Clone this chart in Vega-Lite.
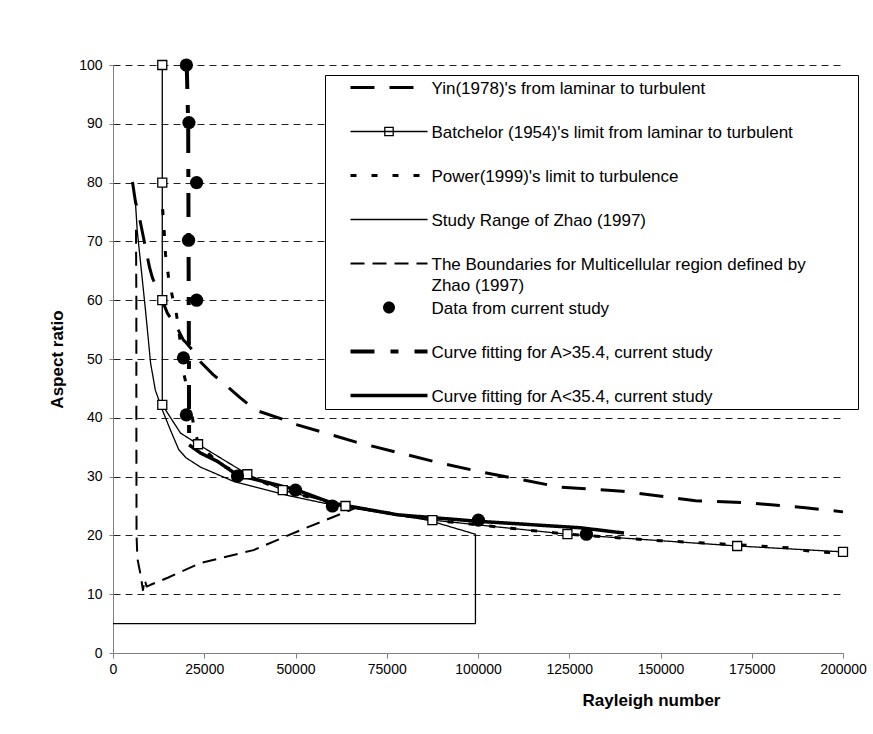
{
  "$schema": "https://vega.github.io/schema/vega-lite/v6.json",
  "width": 730,
  "height": 588,
  "autosize": {"type": "none"},
  "padding": {"left": 113, "top": 65, "right": 30, "bottom": 81},
  "background": "white",
  "config": {
    "view": {"stroke": null},
    "font": "Liberation Sans",
    "axis": {"labelFont": "Liberation Sans", "titleFont": "Liberation Sans", "labelColor": "black", "titleColor": "black", "domainColor": "#808080", "tickColor": "#808080", "tickSize": 5, "labelOverlap": false, "labelBound": false}
  },
  "datasets": {
    "lines": [
      {"s":"Y","x":5340,"y":80.1,"o":1},{"s":"Y","x":6160,"y":76.7,"o":2},{"s":"Y","x":7000,"y":74.8,"o":3},{"s":"Y","x":10000,"y":65.6,"o":4},{"s":"Y","x":10800,"y":63.8,"o":5},{"s":"Y","x":12700,"y":61.2,"o":6},{"s":"Y","x":14900,"y":57.8,"o":7},{"s":"Y","x":17900,"y":54.9,"o":8},{"s":"Y","x":19300,"y":53.2,"o":9},{"s":"Y","x":19700,"y":53.0,"o":10},{"s":"Y","x":21800,"y":51.5,"o":11},{"s":"Y","x":24000,"y":49.5,"o":12},{"s":"Y","x":27500,"y":47.3,"o":13},{"s":"Y","x":30800,"y":45.6,"o":14},{"s":"Y","x":34900,"y":43.4,"o":15},{"s":"Y","x":39000,"y":41.3,"o":16},{"s":"Y","x":47300,"y":39.6,"o":17},{"s":"Y","x":50500,"y":38.8,"o":18},{"s":"Y","x":66400,"y":35.9,"o":19},{"s":"Y","x":88400,"y":32.5,"o":20},{"s":"Y","x":100700,"y":30.8,"o":21},{"s":"Y","x":122600,"y":28.2,"o":22},{"s":"Y","x":139600,"y":27.5,"o":23},{"s":"Y","x":159600,"y":25.9,"o":24},{"s":"Y","x":175000,"y":25.5,"o":25},{"s":"Y","x":189700,"y":24.7,"o":26},{"s":"Y","x":200000,"y":24.0,"o":27},
      {"s":"B","x":13500,"y":100,"o":1},{"s":"B","x":13500,"y":80,"o":2},{"s":"B","x":13500,"y":60,"o":3},{"s":"B","x":13500,"y":42.2,"o":4},{"s":"B","x":18500,"y":37.4,"o":5},{"s":"B","x":23300,"y":35.5,"o":6},{"s":"B","x":36800,"y":30.4,"o":7},{"s":"B","x":46500,"y":27.7,"o":8},{"s":"B","x":63700,"y":25.0,"o":9},{"s":"B","x":87500,"y":22.6,"o":10},{"s":"B","x":124500,"y":20.2,"o":11},{"s":"B","x":171000,"y":18.2,"o":12},{"s":"B","x":200000,"y":17.2,"o":13},
      {"s":"P","x":13600,"y":75.5,"o":1},{"s":"P","x":14000,"y":72,"o":2},{"s":"P","x":14400,"y":67.7,"o":3},{"s":"P","x":15200,"y":64,"o":4},{"s":"P","x":16300,"y":60.5,"o":5},{"s":"P","x":17100,"y":58.8,"o":6},{"s":"P","x":18000,"y":55,"o":7},{"s":"P","x":18800,"y":51,"o":8},{"s":"P","x":19300,"y":47.8,"o":9},{"s":"P","x":20700,"y":43.9,"o":10},{"s":"P","x":22000,"y":39.1,"o":11},{"s":"P","x":23400,"y":35.4,"o":12},{"s":"P","x":30000,"y":31.8,"o":13},{"s":"P","x":36800,"y":30.2,"o":14},{"s":"P","x":46500,"y":27.6,"o":15},{"s":"P","x":63700,"y":25,"o":16},{"s":"P","x":87500,"y":22.6,"o":17},{"s":"P","x":100000,"y":21.8,"o":18},{"s":"P","x":124500,"y":20.2,"o":19},{"s":"P","x":150000,"y":19.1,"o":20},{"s":"P","x":171000,"y":18.4,"o":21},{"s":"P","x":185000,"y":17.9,"o":22},{"s":"P","x":192000,"y":17.2,"o":23},{"s":"P","x":200000,"y":17.0,"o":24},
      {"s":"Z","x":0,"y":5,"o":1},{"s":"Z","x":99300,"y":5,"o":2},{"s":"Z","x":99300,"y":20.2,"o":3},{"s":"Z","x":86200,"y":22.6,"o":4},{"s":"Z","x":60000,"y":25.2,"o":5},{"s":"Z","x":47800,"y":26.8,"o":6},{"s":"Z","x":33000,"y":29.2,"o":7},{"s":"Z","x":24000,"y":31.6,"o":8},{"s":"Z","x":20000,"y":33.2,"o":9},{"s":"Z","x":18000,"y":34.6,"o":10},{"s":"Z","x":15750,"y":37.9,"o":11},{"s":"Z","x":13600,"y":41.2,"o":12},{"s":"Z","x":11600,"y":44.7,"o":13},{"s":"Z","x":10300,"y":49.3,"o":14},{"s":"Z","x":8900,"y":58.3,"o":15},{"s":"Z","x":6630,"y":71.9,"o":16},{"s":"Z","x":6160,"y":76.5,"o":17},{"s":"Z","x":5340,"y":80.1,"o":18},
      {"s":"M","x":6300,"y":72,"o":1},{"s":"M","x":6400,"y":60,"o":2},{"s":"M","x":6400,"y":40,"o":3},{"s":"M","x":6450,"y":20,"o":4},{"s":"M","x":6700,"y":16,"o":5},{"s":"M","x":7500,"y":13.5,"o":6},{"s":"M","x":8200,"y":10.7,"o":7},{"s":"M","x":8700,"y":12.5,"o":8},{"s":"M","x":9200,"y":11.3,"o":9},{"s":"M","x":10300,"y":11.6,"o":10},{"s":"M","x":15000,"y":12.8,"o":11},{"s":"M","x":24000,"y":15.3,"o":12},{"s":"M","x":38500,"y":17.5,"o":13},{"s":"M","x":51400,"y":20.9,"o":14},{"s":"M","x":67000,"y":24.8,"o":15},
      {"s":"F1","x":20200,"y":100,"o":1},{"s":"F1","x":20600,"y":90,"o":2},{"s":"F1","x":20700,"y":70,"o":3},{"s":"F1","x":20800,"y":50,"o":4},{"s":"F1","x":20850,"y":35.4,"o":5},
      {"s":"F2","x":20850,"y":35.4,"o":1},{"s":"F2","x":24000,"y":34.0,"o":2},{"s":"F2","x":28600,"y":32.6,"o":3},{"s":"F2","x":34000,"y":30.3,"o":4},{"s":"F2","x":50000,"y":27.8,"o":5},{"s":"F2","x":60000,"y":25.5,"o":6},{"s":"F2","x":78000,"y":23.5,"o":7},{"s":"F2","x":100000,"y":22.4,"o":8},{"s":"F2","x":128000,"y":21.3,"o":9},{"s":"F2","x":140000,"y":20.4,"o":10}
    ],
    "squares": [
      {"x":13500,"y":100},{"x":13500,"y":80},{"x":13500,"y":60},{"x":13500,"y":42.2},{"x":23300,"y":35.5},{"x":36800,"y":30.4},{"x":46500,"y":27.7},{"x":63700,"y":25.0},{"x":87500,"y":22.6},{"x":124500,"y":20.2},{"x":171000,"y":18.2},{"x":200000,"y":17.2}
    ],
    "study": [
      {"x":20100,"y":100},{"x":20800,"y":90.2},{"x":22900,"y":80},{"x":20700,"y":70.2},{"x":22900,"y":60},{"x":19300,"y":50.2},{"x":20100,"y":40.5},{"x":34100,"y":30.1},{"x":50000,"y":27.7},{"x":60100,"y":25.0},{"x":100100,"y":22.6},{"x":129700,"y":20.2}
    ]
  },
  "layer": [
    {
      "data": {"name": "lines"},
      "mark": {"type": "line", "color": "black", "strokeCap": "butt", "strokeJoin": "round"},
      "encoding": {
        "x": {"field": "x", "type": "quantitative", "scale": {"domain": [0, 200000], "nice": false, "zero": false},
          "axis": {"values": [0,25000,50000,75000,100000,125000,150000,175000,200000], "format": "d", "grid": false, "labelFlush": false, "labelFontSize": 14, "labelPadding": 4,
            "title": "Rayleigh number", "titleFontWeight": "bold", "titleFontSize": 17, "titleX": 538, "titleY": 47, "titleAlign": "center", "titleBaseline": "middle", "titleAnchor": null}},
        "y": {"field": "y", "type": "quantitative", "scale": {"domain": [0, 100], "nice": false},
          "axis": {"values": [0,10,20,30,40,50,60,70,80,90,100], "grid": true, "gridDash": [7,5], "gridColor": "#222222", "gridWidth": 1,
            "gridOpacity": {"condition": {"test": "datum.value == 0", "value": 0}, "value": 1},
            "labelFontSize": 14, "labelPadding": 7, "tickSize": 4,
            "title": "Aspect ratio", "titleFontWeight": "bold", "titleFontSize": 17, "titlePadding": 12}},
        "order": {"field": "o", "type": "quantitative"},
        "strokeWidth": {"field": "s", "type": "nominal", "legend": null,
          "scale": {"type": "ordinal", "domain": ["Y","B","P","Z","M","D","F1","F2"], "range": [3,1.3,3,1.3,2,1,4,3.5]}},
        "strokeDash": {"field": "s", "type": "nominal",
          "scale": {"domain": ["Y","B","P","Z","M","D","F1","F2"], "range": [[24,15],[1,0],[6,15],[1,0],[14,8],[1,0],[24,16,8,16],[1,0]]},
          "legend": {
            "title": null,
            "orient": "none", "legendX": 212, "legendY": 10, "direction": "vertical",
            "strokeColor": "black", "fillColor": "white", "padding": 4,
            "symbolType": "stroke", "symbolSize": 64, "symbolStrokeWidth": 1.5, "symbolStrokeColor": "black",
            "symbolOffset": 51.5, "labelOffset": 34,
            "labelFont": "Liberation Sans", "labelFontSize": 17, "labelColor": "black", "labelLimit": 1000, "labelBaseline": "top",
            "gridAlign": "all", "rowPadding": 5,
            "labelExpr": "datum.label=='Y' ? \"Yin(1978)'s from laminar to turbulent\" : datum.label=='B' ? \"Batchelor (1954)'s limit from laminar to turbulent\" : datum.label=='P' ? \"Power(1999)'s limit to turbulence\" : datum.label=='Z' ? 'Study Range of Zhao (1997)' : datum.label=='M' ? ['The Boundaries for Multicellular region defined by\u2800\u2800\u2800\u2800', 'Zhao (1997)'] : datum.label=='D' ? 'Data from current study' : datum.label=='F1' ? 'Curve fitting for A>35.4, current study' : 'Curve fitting for A<35.4, current study'",
            "encode": {
              "symbols": {"update": {
                "shape": {"signal": "datum.value=='D' ? 'M-9.625,0M1.5,0A1.5,1.5 0 1,1 -1.5,0A1.5,1.5 0 1,1 1.5,0Z' : datum.value=='B' ? 'M-9.625,0H9.625M-1.05,-1.05H1.05V1.05H-1.05Z' : 'M-9.625,0H9.625'"},
                "fill": {"signal": "datum.value=='D' ? 'black' : datum.value=='B' ? 'white' : 'transparent'"},
                "stroke": {"signal": "datum.value=='D' ? 'transparent' : 'black'"},
                "strokeCap": {"value": "butt"},
                "opacity": {"value": 1}
              }},
              "labels": {"update": {"dy": {"value": -7}, "lineHeight": {"value": 21}}}
            }
          }
        }
      }
    },
    {
      "data": {"name": "squares"},
      "mark": {"type": "point", "shape": "square", "filled": false, "fill": "white", "fillOpacity": 1, "stroke": "black", "strokeWidth": 1.3, "size": 81, "opacity": 1},
      "encoding": {
        "x": {"field": "x", "type": "quantitative"},
        "y": {"field": "y", "type": "quantitative"}
      }
    },
    {
      "data": {"name": "study"},
      "mark": {"type": "point", "shape": "circle", "filled": true, "color": "black", "size": 175, "opacity": 1},
      "encoding": {
        "x": {"field": "x", "type": "quantitative"},
        "y": {"field": "y", "type": "quantitative"}
      }
    }
  ]
}
